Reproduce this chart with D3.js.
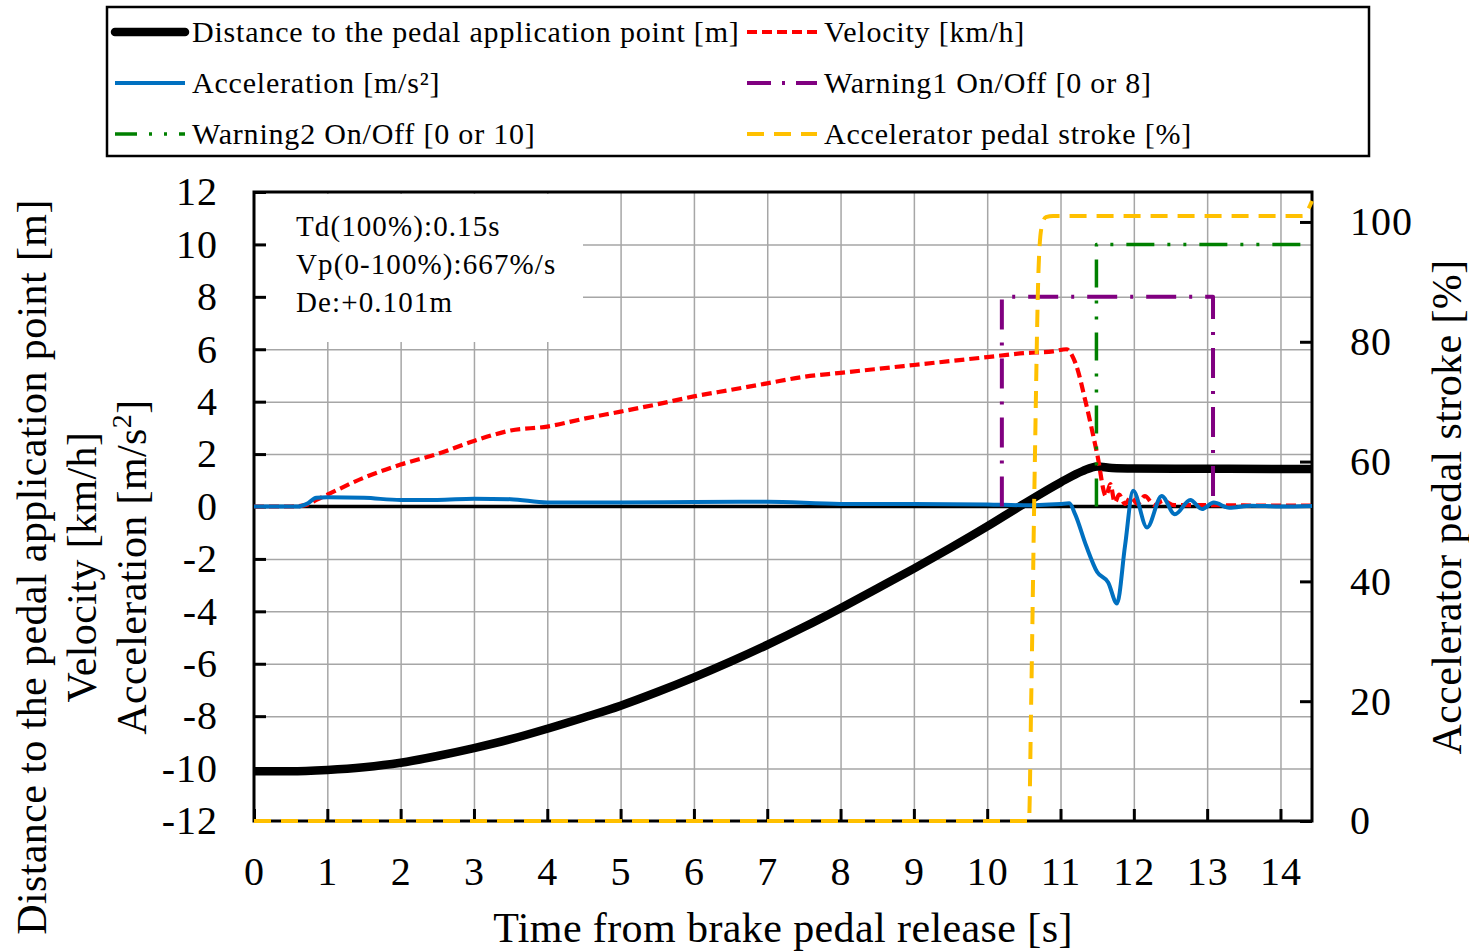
<!DOCTYPE html>
<html>
<head>
<meta charset="utf-8">
<script src="https://cdn.jsdelivr.net/npm/d3@7"></script>
<style>
  body { margin: 0; background: #fff; }
  text { font-family: "Liberation Serif", "Times New Roman", serif; fill: #000; }
</style>
</head>
<body>
<div id="chart"></div>
<script>
// data
var distT = [0, 0.5, 1, 1.5, 2, 2.5, 3, 3.5, 4, 4.5, 5, 5.5, 6, 6.5, 7, 7.5, 8, 8.5, 9, 9.5, 10, 10.5, 11, 11.3, 11.5, 11.7, 12, 13, 14, 14.43];
var distV = [-10.1, -10.1, -10.05, -9.95, -9.78, -9.52, -9.22, -8.88, -8.48, -8.05, -7.6, -7.08, -6.52, -5.92, -5.28, -4.6, -3.88, -3.13, -2.37, -1.58, -0.76, 0.1, 0.92, 1.35, 1.53, 1.47, 1.45, 1.44, 1.43, 1.43];

var velT = [0, 0.5, 0.7, 0.85, 1, 1.5, 2, 2.5, 3, 3.5, 4, 4.5, 5, 5.5, 6, 6.5, 7, 7.5, 8, 8.5, 9, 9.5, 10, 10.5, 10.9, 11.08, 11.2, 11.35, 11.5, 11.62, 11.68, 11.74, 11.8, 11.88, 11.96, 12.05, 12.15, 12.28, 12.4, 12.55, 13, 14, 14.43];
var velV = [0, 0, 0.05, 0.25, 0.45, 1.1, 1.6, 2.0, 2.5, 2.9, 3.05, 3.35, 3.62, 3.9, 4.2, 4.45, 4.7, 4.95, 5.1, 5.25, 5.4, 5.55, 5.7, 5.85, 5.92, 6.0, 5.5, 3.9, 2.0, 0.4, 0.85, 0.15, 0.45, 0.1, 0.35, 0.1, 0.4, 0.05, 0.22, 0.05, 0.05, 0.03, 0.03];

var accT = [0, 0.6, 0.72, 0.85, 1, 1.5, 2, 2.5, 3, 3.5, 4, 5, 6, 7, 8, 9, 10, 10.5, 11, 11.12, 11.2, 11.35, 11.5, 11.65, 11.77, 11.88, 11.99, 12.18, 12.38, 12.56, 12.77, 12.93, 13.09, 13.3, 13.6, 14, 14.43];
var accV = [0, 0, 0.1, 0.33, 0.35, 0.33, 0.25, 0.25, 0.3, 0.28, 0.15, 0.15, 0.17, 0.18, 0.1, 0.1, 0.08, 0.05, 0.1, 0.12, -0.3, -1.5, -2.5, -2.9, -3.7, -1.5, 0.6, -0.8, 0.4, -0.3, 0.25, -0.1, 0.15, -0.05, 0.03, 0.0, 0.02];

// warnings: only the "on" part shows, the off part sits under the zero line
var warn1T = [10.2, 10.2, 13.08, 13.08];
var warn1V = [0, 8, 8, 0];

var warn2T = [11.49, 11.49, 14.43];
var warn2V = [0, 10, 10];

var pedalT = [0, 10.57, 10.6, 10.65, 10.7, 10.74, 10.8, 10.9, 14.3, 14.43];
var pedalV = [0, 0, 20, 60, 92, 99, 100.8, 101, 101, 103.5];

var xTicks = d3.range(0, 15, 1);
var yLeftTicks = d3.range(-12, 13, 2);
var yRightTicks = d3.range(0, 101, 20);

var notes = ["Td(100%):0.15s", "Vp(0-100%):667%/s", "De:+0.101m"];

var seriesNames = ["Distance to the pedal application point [m]", "Velocity [km/h]", "Acceleration [m/s²]",
  "Warning1 On/Off [0 or 8]", "Warning2 On/Off [0 or 10]", "Accelerator pedal stroke [%]"];

// layout
var width = 1469, height = 951;
var plot = {left: 254, right: 1312, top: 192, bottom: 821};

var svg = d3.select("#chart").append("svg")
  .attr("width", width)
  .attr("height", height);

var x = d3.scaleLinear().domain([0, 14.43]).range([plot.left, plot.right]);
var yL = d3.scaleLinear().domain([-12, 12]).range([plot.bottom, plot.top]);
var yR = d3.scaleLinear().domain([0, 105]).range([plot.bottom, plot.top]);

var gridColor = "#a6a6a6";

// gridlines
svg.append("g")
  .attr("transform", "translate(0," + plot.bottom + ")")
  .call(d3.axisBottom(x).tickValues(xTicks.slice(1)).tickSize(-(plot.bottom - plot.top)).tickFormat(""))
  .call(g => g.select(".domain").remove())
  .call(g => g.selectAll("line").attr("stroke", gridColor).attr("stroke-width", 1.5));

svg.append("g")
  .attr("transform", "translate(" + plot.left + ",0)")
  .call(d3.axisLeft(yL).tickValues(yLeftTicks.slice(1, -1)).tickSize(-(plot.right - plot.left)).tickFormat(""))
  .call(g => g.select(".domain").remove())
  .call(g => g.selectAll("line").attr("stroke", gridColor).attr("stroke-width", 1.5));

// white box behind the notes
svg.append("rect")
  .attr("x", plot.left + 2).attr("y", plot.top + 2)
  .attr("width", 327).attr("height", 148)
  .attr("fill", "#fff");

// axes
var fs = 40;
svg.append("g")
  .attr("transform", "translate(0," + plot.bottom + ")")
  .call(d3.axisBottom(x).tickValues(xTicks).tickSize(-12).tickPadding(36))
  .call(g => g.select(".domain").remove())
  .call(g => g.selectAll("line").attr("stroke", "#000").attr("stroke-width", 3))
  .call(g => g.selectAll("text").attr("font-size", fs).attr("font-family", "Liberation Serif").attr("letter-spacing", 1));

svg.append("g")
  .attr("transform", "translate(" + plot.left + ",0)")
  .call(d3.axisLeft(yL).tickValues(yLeftTicks).tickSize(-12).tickPadding(36).tickFormat(d => String(d)))
  .call(g => g.select(".domain").remove())
  .call(g => g.selectAll("line").attr("stroke", "#000").attr("stroke-width", 3))
  .call(g => g.selectAll("text").attr("font-size", fs).attr("font-family", "Liberation Serif").attr("letter-spacing", 1));

svg.append("g")
  .attr("transform", "translate(" + plot.right + ",0)")
  .call(d3.axisRight(yR).tickValues(yRightTicks).tickSize(-12).tickPadding(38))
  .call(g => g.select(".domain").remove())
  .call(g => g.selectAll("line").attr("stroke", "#000").attr("stroke-width", 3))
  .call(g => g.selectAll("text").attr("font-size", fs).attr("font-family", "Liberation Serif").attr("letter-spacing", 1));

// frame and zero line
svg.append("rect")
  .attr("x", plot.left).attr("y", plot.top)
  .attr("width", plot.right - plot.left).attr("height", plot.bottom - plot.top)
  .attr("fill", "none").attr("stroke", "#000").attr("stroke-width", 3);

svg.append("line")
  .attr("x1", plot.left).attr("x2", plot.right)
  .attr("y1", yL(0)).attr("y2", yL(0))
  .attr("stroke", "#000").attr("stroke-width", 3.5);

// notes
svg.append("g").selectAll("text")
  .data(notes)
  .enter()
  .append("text")
  .attr("x", 296)
  .attr("y", (d, i) => 236 + i * 38)
  .attr("font-size", 29)
  .attr("letter-spacing", 1.1)
  .text(d => d);

// series
var styles = [
  {color: "#000000", width: 8.5, dash: null},
  {color: "#ff0000", width: 4.2, dash: "10,5"},
  {color: "#0070c0", width: 4, dash: null},
  {color: "#800080", width: 4, dash: "30,13,3,13"},
  {color: "#008000", width: 3.5, dash: "28,13,3,13,3,13"},
  {color: "#ffc000", width: 4, dash: "17,10"}
];

function pairs(t, v) { return t.map((d, i) => [d, v[i]]); }

var smoothL = d3.line().x(d => x(d[0])).y(d => yL(d[1])).curve(d3.curveMonotoneX);
var stepL = d3.line().x(d => x(d[0])).y(d => yL(d[1]));
var smoothR = d3.line().x(d => x(d[0])).y(d => yR(d[1])).curve(d3.curveMonotoneX);

var paths = [
  smoothL(pairs(distT, distV)),
  smoothL(pairs(velT, velV)),
  smoothL(pairs(accT, accV)),
  stepL(pairs(warn1T, warn1V)),
  stepL(pairs(warn2T, warn2V)),
  smoothR(pairs(pedalT, pedalV))
];

svg.append("g").selectAll("path")
  .data(paths)
  .enter()
  .append("path")
  .attr("d", d => d)
  .attr("fill", "none")
  .attr("stroke", (d, i) => styles[i].color)
  .attr("stroke-width", (d, i) => styles[i].width)
  .attr("stroke-dasharray", (d, i) => styles[i].dash)
  .attr("stroke-linejoin", "round");

// axis titles
var tfs = 42;
svg.append("text")
  .attr("x", 783)
  .attr("y", 942)
  .attr("text-anchor", "middle")
  .attr("font-size", tfs)
  .attr("letter-spacing", 0.4)
  .text("Time from brake pedal release [s]");

var leftTitle = svg.append("text")
  .attr("transform", "translate(46," + 567 + ") rotate(-90)")
  .attr("text-anchor", "middle")
  .attr("font-size", tfs)
  .attr("letter-spacing", 0.4);
leftTitle.append("tspan").attr("x", 0).attr("dy", 0).text("Distance to the pedal application point [m]");
leftTitle.append("tspan").attr("x", 0).attr("dy", 50).text("Velocity [km/h]");
leftTitle.append("tspan").attr("x", 0).attr("dy", 50).text("Acceleration [m/s");
leftTitle.append("tspan").attr("dy", -15).attr("font-size", 28).text("2");
leftTitle.append("tspan").attr("dy", 15).text("]");

svg.append("text")
  .attr("transform", "translate(1461," + 507 + ") rotate(-90)")
  .attr("text-anchor", "middle")
  .attr("font-size", tfs)
  .attr("letter-spacing", 0.4)
  .text("Accelerator pedal stroke [%]");

// legend
var legend = svg.append("g");
legend.append("rect")
  .attr("x", 107).attr("y", 7)
  .attr("width", 1262).attr("height", 149)
  .attr("fill", "#fff").attr("stroke", "#000").attr("stroke-width", 2.5);

var legItems = legend.selectAll("g.item")
  .data(seriesNames)
  .enter()
  .append("g")
  .attr("class", "item")
  .attr("transform", (d, i) => "translate(" + (i % 2 === 0 ? 115 : 747) + "," + (32 + Math.floor(i / 2) * 51) + ")");

legItems.append("line")
  .attr("x1", 0).attr("x2", 70)
  .attr("stroke", (d, i) => styles[i].color)
  .attr("stroke-width", (d, i) => styles[i].width)
  .attr("stroke-dasharray", (d, i) => i === 3 ? "24,11,3,11" : i === 4 ? "22,12,3,12,3,12" : styles[i].dash)
  .attr("stroke-linecap", (d, i) => i === 0 ? "round" : "butt");

legItems.append("text")
  .attr("x", 77)
  .attr("y", 10)
  .attr("font-size", 30)
  .attr("letter-spacing", 0.8)
  .text(d => d);
</script>
</body>
</html>
